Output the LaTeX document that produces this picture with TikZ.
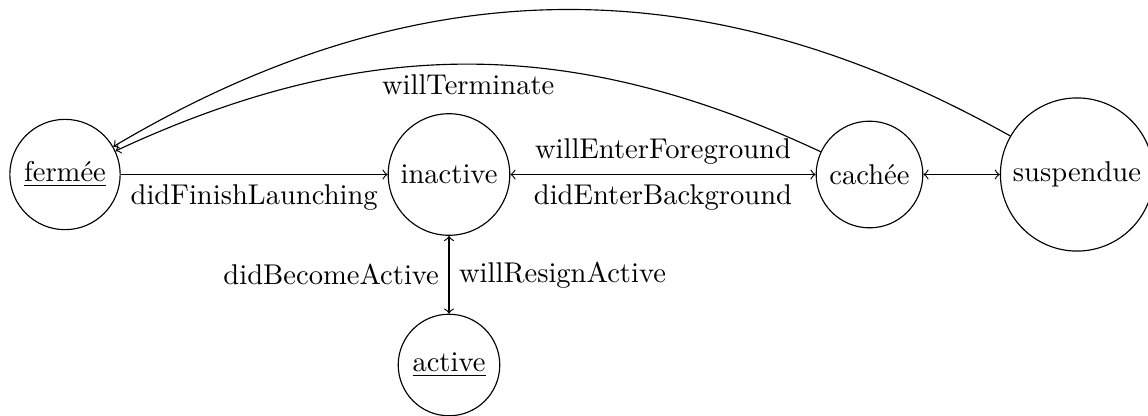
\documentclass[tikz,border=0pt]{standalone}
\begin{document}
\begin{tikzpicture}[x=0.35pt,y=-0.35pt,
  state/.style={circle,draw},
  >=to]
\useasboundingbox (0,0) rectangle (1148,416);
\node[state] (fermee) at (65,174.5) {\underline{fermée}};
\node[state] (inactive) at (449,174.5) {inactive};
\node[state] (cachee) at (869.5,174.5) {cachée};
\node[state] (suspendue) at (1077,174.5) {suspendue};
\node[state] (active) at (449,365) {\underline{active}};
\draw[->] (fermee) -- node[below] {didFinishLaunching} (inactive);
\draw[<->] (inactive) -- node[above] {willEnterForeground} node[below] {didEnterBackground} (cachee);
\draw[<->] (cachee) -- (suspendue);
\draw[<->] (inactive) -- node[left] {didBecomeActive} node[right] {willResignActive} (active);
\draw[->] (cachee) to[bend right=25] node[below] {willTerminate} (fermee);
\draw[->] (suspendue) to[bend right=30] (fermee);
\end{tikzpicture}
\end{document}
